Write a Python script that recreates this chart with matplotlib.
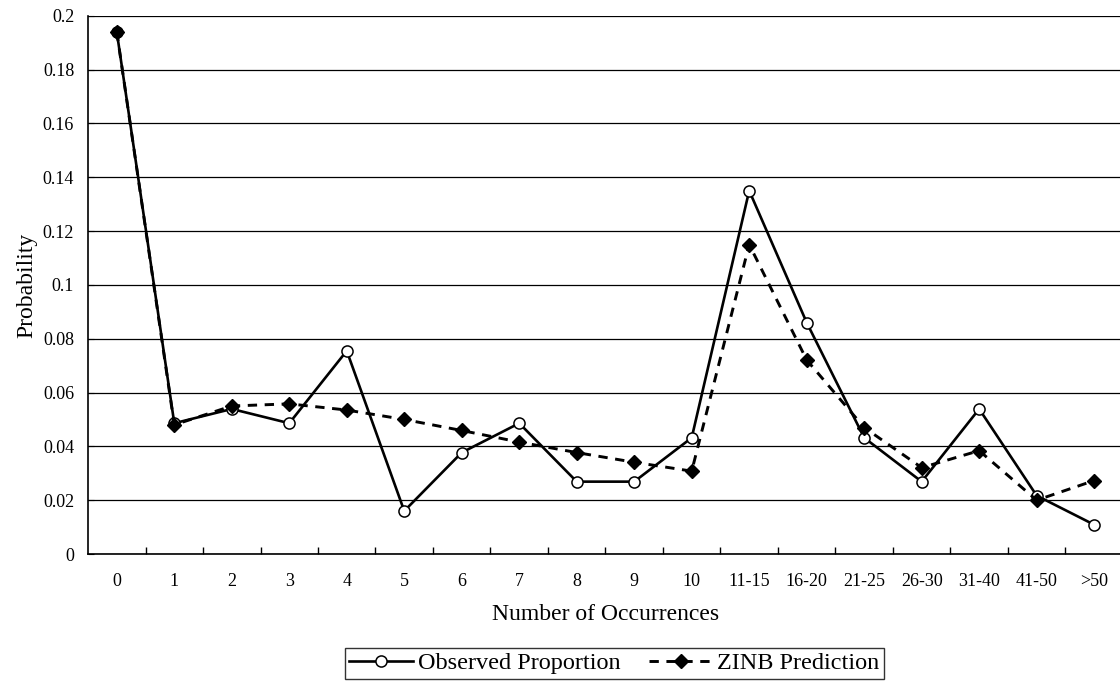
import matplotlib.pyplot as plt
import numpy as np

plt.rcParams["font.family"] = ["Liberation Serif", "DejaVu Serif"]

categories = ["0", "1", "2", "3", "4", "5", "6", "7", "8", "9", "10",
              "11-15", "16-20", "21-25", "26-30", "31-40", "41-50", ">50"]
observed = [0.194, 0.0486, 0.0539, 0.0486, 0.0755, 0.016, 0.0377, 0.0486, 0.0269,
            0.0269, 0.0432, 0.135, 0.086, 0.0432, 0.0269, 0.0539, 0.0217, 0.0109]
zinb = [0.194, 0.048, 0.055, 0.0558, 0.0535, 0.050, 0.0459, 0.0416, 0.0377,
        0.0341, 0.0308, 0.115, 0.0721, 0.047, 0.0321, 0.0384, 0.020, 0.0273]

x = np.arange(len(categories))

fig = plt.figure(figsize=(11.2, 6.84), dpi=100)
# plot area runs a little past the right edge, like the cropped original
ax = fig.add_axes([0.0786, 0.19, 0.924, 0.787])

ax.plot(x, observed, color="black", linewidth=1.9, marker="o", markersize=8,
        markerfacecolor="white", markeredgecolor="black", markeredgewidth=1.1,
        label="Observed Proportion", zorder=3)
ax.plot(x, zinb, color="black", linewidth=2.1, linestyle=(0, (3.2, 2.6)), marker="D",
        markersize=7, markerfacecolor="black", markeredgecolor="black",
        label="ZINB Prediction", zorder=4)

ax.set_xlim(-0.5, len(categories) - 0.5)
ax.set_ylim(0, 0.2)
ax.set_yticks(np.arange(0, 0.201, 0.02))
ax.set_yticklabels(["0", "0.02", "0.04", "0.06", "0.08", "0.1", "0.12", "0.14",
                    "0.16", "0.18", "0.2"])
ax.set_xticks(x)
ax.set_xticklabels(categories)
ax.set_xticks(np.arange(0.5, len(categories) - 0.5, 1), minor=True)
ax.tick_params(axis="x", which="major", length=0, pad=14, labelsize=13)
ax.tick_params(axis="x", which="minor", direction="in", length=5, width=1)
ax.tick_params(axis="y", direction="in", length=4, labelsize=13, pad=10)

ax.grid(axis="y", color="black", linewidth=0.9)
ax.set_axisbelow(True)
for side in ["top", "right"]:
    ax.spines[side].set_visible(False)
for side in ["left", "bottom"]:
    ax.spines[side].set_linewidth(1.2)

ax.set_xlabel("Number of Occurrences", fontsize=17, labelpad=10)
ax.set_ylabel("Probability", fontsize=17, labelpad=4)

handles, labels = ax.get_legend_handles_labels()
leg = fig.legend(handles, labels, loc="center", bbox_to_anchor=(0.5487, 0.030),
                 ncol=2, fontsize=17.5, frameon=True, fancybox=False, edgecolor="black",
                 handlelength=2.6, handletextpad=0.2, columnspacing=1.2,
                 borderpad=0.2)
leg.get_frame().set_linewidth(1.0)

fig.savefig("out.png", dpi=100)
